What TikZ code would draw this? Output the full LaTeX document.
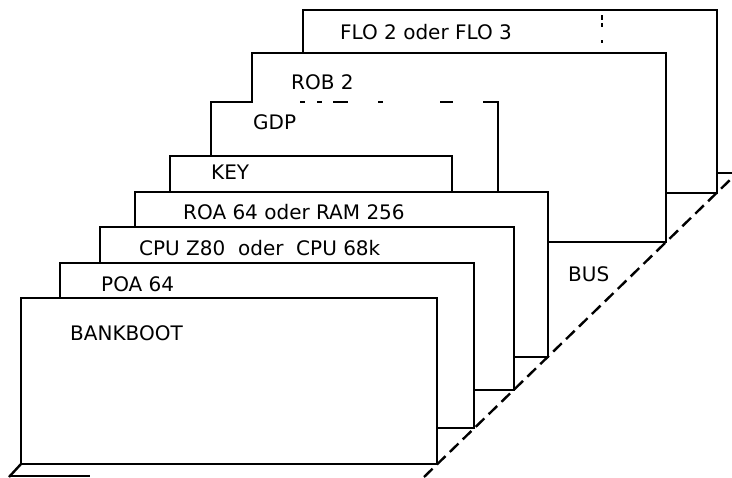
\documentclass[tikz,border=0pt]{standalone}
\usepackage{fontspec}
\setmainfont{DejaVu Sans}
\tikzset{
  card/.style={draw, fill=white},
  card label/.style={anchor=base west, inner sep=0pt, font=\fontsize{10}{12}\selectfont},
  bus line/.style={dash pattern=on 6pt off 3pt}
}

\begin{document}
\begin{tikzpicture}[x=0.5pt, y=-0.5pt, line width=1.2pt, line join=miter]
  \useasboundingbox (0,0) rectangle (732,477);

  % The bus runs along the dashed line; every card's bottom-right corner sits on it
  \coordinate (bus a) at (424,477);
  \coordinate (bus b) at (732,178);

  % Cards, from the back to the front
  \draw (717,173) -- (732,173); % a card further back, cut off
  \draw[card] (303,10) rectangle (717,193);   % FLO
  \foreach \a/\b in {15/20, 23/27, 40/43}
    \draw (602,\a) -- (602,\b);
  \draw[card] (252,53) rectangle (666,242);   % ROB
  % GDP: its top edge is faded in places
  \fill[white] (211,102) rectangle (498,300);
  \draw (211,300) -- (211,102) -- (253,102);
  \draw (483,102) -- (498,102) -- (498,300);
  \foreach \a/\b in {300/305, 317/322, 333/348, 378/383, 440/453}
    \draw[line width=0.8pt] (\a,102) -- (\b,102);
  \draw[card] (170,156) rectangle (452,300);  % KEY
  \draw[card] (135,192) rectangle (548,357);  % ROA / RAM
  \draw[card] (100,227) rectangle (514,390);  % CPU
  \draw[card] (60,263) rectangle (474,428);   % ROA 64
  \draw[card] (21,298) rectangle (437,464);   % BANKBOOT

  \draw[bus line] (bus a) -- (bus b);
  \draw (21,464) -- (9,477);
  \draw (10,476) -- (90,476);

  % Labels
  \node[card label] (flo) at (339,39) {FLO 2 oder FLO 3};
  \node[card label] (rob) at (290,89) {ROB 2};
  \node[card label] (gdp) at (252,129) {GDP};
  \node[card label] (key) at (210,179) {KEY};
  \node[card label] (roaram) at (182,219) {ROA 64 oder RAM 256};
  \node[card label] (cpu) at (138,255) {CPU Z80~~oder~~CPU 68k};
  \node[card label] (roa) at (100,291) {POA 64};
  \node[card label] (bankboot) at (69,340) {BANKBOOT};
  \node[card label] (bus) at (567,281) {BUS};
\end{tikzpicture}
\end{document}
